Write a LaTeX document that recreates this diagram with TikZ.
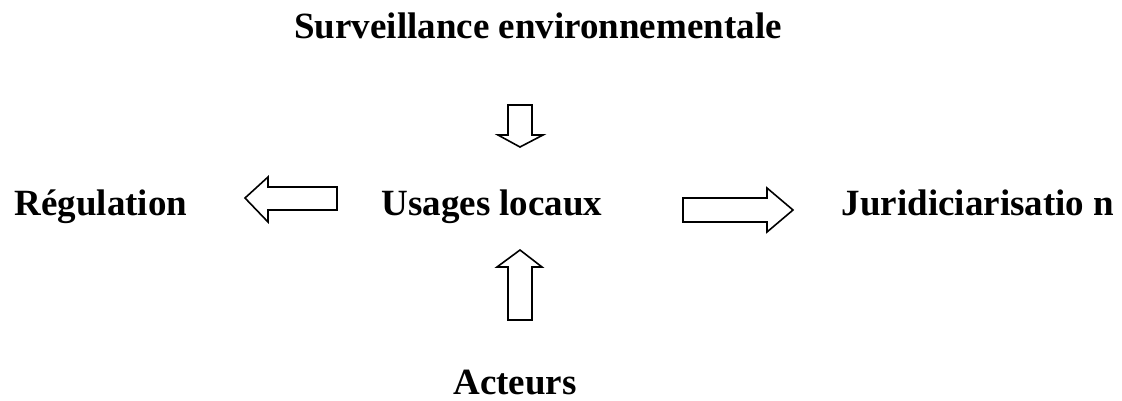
\documentclass[tikz,border=0pt]{standalone}
\usepackage{fontspec}
\setmainfont{Liberation Serif}
\begin{document}
\begin{tikzpicture}[x=1pt,y=-1pt,
  lbl/.style={font=\bfseries\fontsize{37}{40}\selectfont, inner sep=0pt, anchor=base},
  bigarrow/.style={draw=black, line width=1.6pt, line join=miter, fill=white}]
\useasboundingbox (0,0) rectangle (1122,400);
\node[lbl] (surv) at (538,38) {Surveillance environnementale};
\node[lbl] (reg) at (101,215) {Régulation};
\node[lbl] (usa) at (492,215) {Usages locaux};
\node[lbl] (jur) at (978,215) {Juridiciarisatio n};
\node[lbl] (act) at (515,394) {Acteurs};
% down arrow
\draw[bigarrow] (508,105) -- (532,105) -- (532,135) -- (543,135) -- (520,147) -- (498,135) -- (508,135) -- cycle;
% left arrow
\draw[bigarrow] (337,187) -- (337,210) -- (268,210) -- (268,222) -- (245,198) -- (268,177) -- (268,187) -- cycle;
% right arrow
\draw[bigarrow] (683,198) -- (767,198) -- (767,188) -- (793,210) -- (767,232) -- (767,222) -- (683,222) -- cycle;
% up arrow
\draw[bigarrow] (508,320) -- (508,267) -- (497,267) -- (520,250) -- (542,267) -- (532,267) -- (532,320) -- cycle;
\end{tikzpicture}
\end{document}
